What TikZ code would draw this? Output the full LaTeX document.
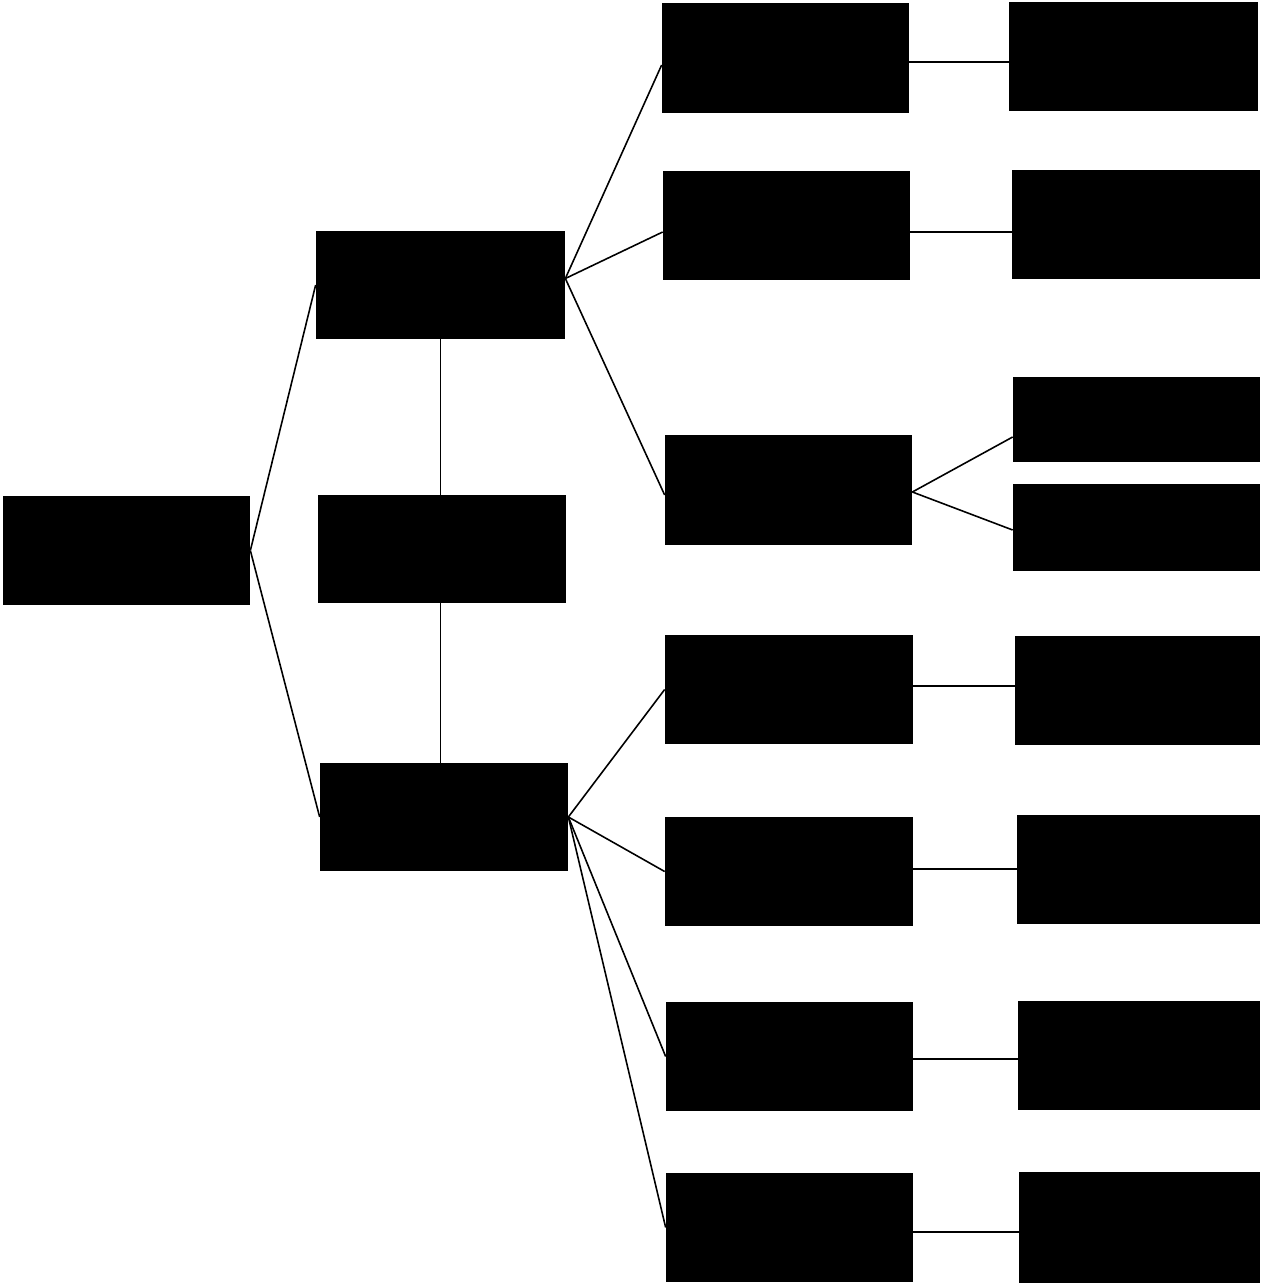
\documentclass[tikz,border=0pt]{standalone}
\usepackage{tikz}

\tikzset{
  blk/.style={rectangle, fill=black, draw=none, inner sep=0pt, minimum width=4.96cm, minimum height=2.18cm},
  link/.style={line width=0.9pt, black}
}

\begin{document}
\begin{tikzpicture}
  \useasboundingbox (0,0) rectangle (25.2,-25.7);

  % Root
  \node[blk, minimum width=4.94cm] (root) at (2.53,-11.01) {};

  % Second level
  \node[blk, minimum width=4.98cm, minimum height=2.16cm] (midA) at (8.81,-5.70) {};
  \node[blk, minimum height=2.16cm] (midB) at (8.84,-10.98) {};
  \node[blk, minimum height=2.16cm] (midC) at (8.88,-16.34) {};

  % Third level (upper branch)
  \node[blk, minimum width=4.94cm, minimum height=2.2cm] (a1) at (15.71,-1.16) {};
  \node[blk, minimum width=4.94cm] (a2) at (15.73,-4.51) {};
  \node[blk, minimum width=4.94cm, minimum height=2.2cm] (a3) at (15.77,-9.80) {};

  % Third level (lower branch)
  \node[blk] (c1) at (15.78,-13.79) {};
  \node[blk] (c2) at (15.78,-17.43) {};
  \node[blk, minimum width=4.94cm] (c3) at (15.79,-21.13) {};
  \node[blk, minimum width=4.94cm] (c4) at (15.79,-24.55) {};

  % Leaves
  \node[blk, minimum width=4.98cm] (r1) at (22.67,-1.13) {};
  \node[blk] (r2) at (22.72,-4.49) {};
  \node[blk, minimum width=4.94cm, minimum height=1.70cm] (r3a) at (22.73,-8.39) {};
  \node[blk, minimum width=4.94cm, minimum height=1.74cm] (r3b) at (22.73,-10.55) {};
  \node[blk, minimum width=4.90cm] (r4) at (22.75,-13.81) {};
  \node[blk, minimum width=4.86cm] (r5) at (22.77,-17.39) {};
  \node[blk, minimum width=4.84cm] (r6) at (22.78,-21.11) {};
  \node[blk, minimum width=4.82cm, minimum height=2.22cm] (r7) at (22.79,-24.55) {};

  % Root to second level
  \draw[link] (root.east) -- (midA.west);
  \draw[link] (root.east) -- (midC.west);
  \draw[link] (midA.south) -- (midA.south |- midB.north);
  \draw[link] (midA.south |- midB.south) -- (midA.south |- midC.north);

  % Upper branch
  \draw[link] ([yshift=0.13cm]midA.east) -- ([yshift=-0.14cm]a1.west);
  \draw[link] ([yshift=0.13cm]midA.east) -- ([yshift=-0.13cm]a2.west);
  \draw[link] ([yshift=0.13cm]midA.east) -- ([yshift=-0.10cm]a3.west);

  % Lower branch
  \draw[link] (midC.east) -- (c1.west);
  \draw[link] (midC.east) -- (c2.west);
  \draw[link] (midC.east) -- (c3.west);
  \draw[link] (midC.east) -- (c4.west);

  % Third level to leaves
  \draw[link] ([yshift=-0.08cm]a1.east) -- ([yshift=-0.08cm]r1.west |- a1.east);
  \draw[link] ([yshift=-0.13cm]a2.east) -- ([yshift=-0.13cm]r2.west |- a2.east);
  \draw[link] ([yshift=-0.04cm]a3.east) -- ([yshift=-0.35cm]r3a.west);
  \draw[link] ([yshift=-0.04cm]a3.east) -- ([yshift=-0.05cm]r3b.west);
  \draw[link] ([yshift=0.07cm]c1.east) -- ([yshift=0.07cm]r4.west |- c1.east);
  \draw[link] ([yshift=0.05cm]c2.east) -- ([yshift=0.05cm]r5.west |- c2.east);
  \draw[link] ([yshift=-0.05cm]c3.east) -- ([yshift=-0.05cm]r6.west |- c3.east);
  \draw[link] ([yshift=-0.09cm]c4.east) -- ([yshift=-0.09cm]r7.west |- c4.east);
\end{tikzpicture}
\end{document}
